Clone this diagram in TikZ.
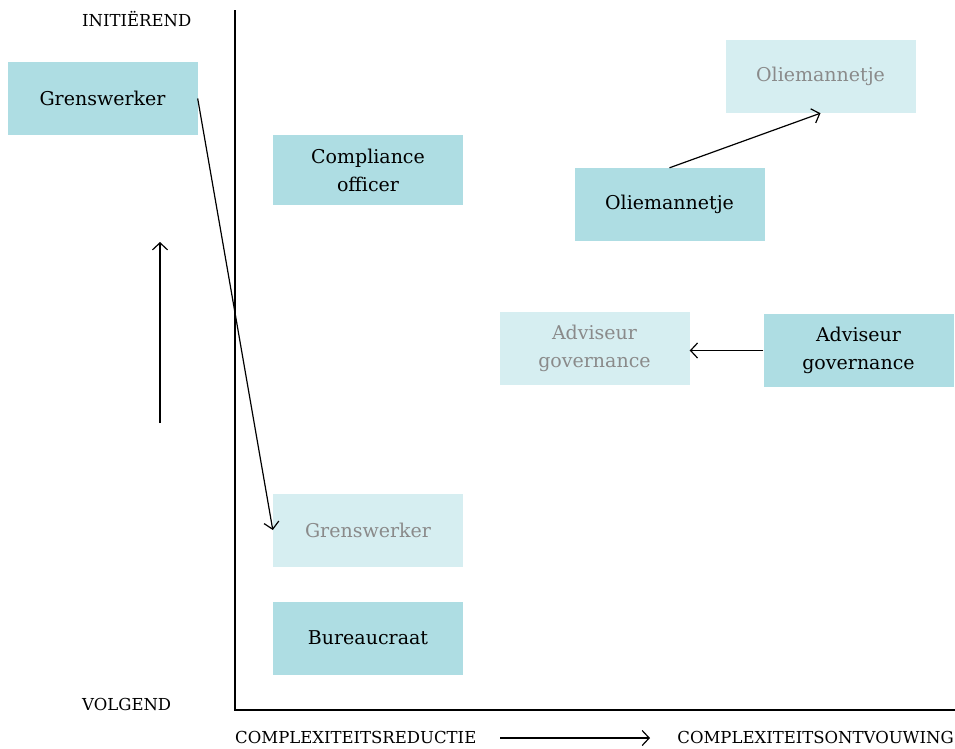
\documentclass[tikz,border=0pt]{standalone}
\usepackage{fontspec}
\setmainfont{DejaVu Serif}
\usetikzlibrary{arrows.meta}
\definecolor{boxc}{HTML}{AEDDE3}
\definecolor{fadec}{HTML}{D6EEF1}
\definecolor{fadetext}{HTML}{8A8A8A}
\begin{document}
\begin{tikzpicture}[x=1pt,y=-1pt,
  rolebox/.style={fill=boxc, minimum width=190pt, minimum height=73pt, inner sep=0pt, align=center,
    font=\fontsize{19}{28}\selectfont, text=black},
  fadebox/.style={rolebox, fill=fadec, text=fadetext},
  axlabel/.style={font=\fontsize{16.5}{18}\selectfont, inner sep=0pt},
  arr/.style={-{Straight Barb[length=7pt,width=15pt]}, line width=1.2pt},
  axis/.style={line width=1.2pt}]
\useasboundingbox (0,0) rectangle (955,748);
% axes
\coordinate (ytop) at (235,10);
\coordinate (orig) at (235,710);
\coordinate (xend) at (955,710);
\draw[axis] (ytop) -- (orig) -- (xend);
% axis labels
\node[axlabel, anchor=base west] (ini) at (82,26) {INITIËREND};
\node[axlabel, anchor=base west] (vol) at (82,710) {VOLGEND};
\node[axlabel, anchor=base west] (red) at (235,743) {COMPLEXITEITSREDUCTIE};
\node[axlabel, anchor=base east] (ont) at (954,743) {COMPLEXITEITSONTVOUWING};
\coordinate (xa1) at (500,738);
\coordinate (xa2) at (650,738);
\draw[arr] (xa1) -- (xa2);
\coordinate (ya1) at (160,423);
\coordinate (ya2) at (160,242);
\draw[arr] (ya1) -- (ya2);
% boxes
\node[rolebox] (g1) at (102.5,98.5) {Grenswerker};
\node[rolebox, minimum height=70pt] (co) at (368,170) {Compliance\\officer};
\node[fadebox] (o2) at (820.5,76.5) {Oliemannetje};
\node[rolebox] (o1) at (669.5,204.5) {Oliemannetje};
\node[fadebox] (a2) at (594.5,348.5) {Adviseur\\governance};
\node[rolebox] (a1) at (858.5,350.5) {Adviseur\\governance};
\node[fadebox] (g2) at (368,530) {Grenswerker};
\node[rolebox] (b) at (368,638) {Bureaucraat};
% arrows
\draw[arr] (g1.east) -- (g2.west);
\draw[arr] (o1.north) -- (o2.south);
\draw[arr] (a1.west) -- (a2.east |- a1.west);
\end{tikzpicture}
\end{document}
